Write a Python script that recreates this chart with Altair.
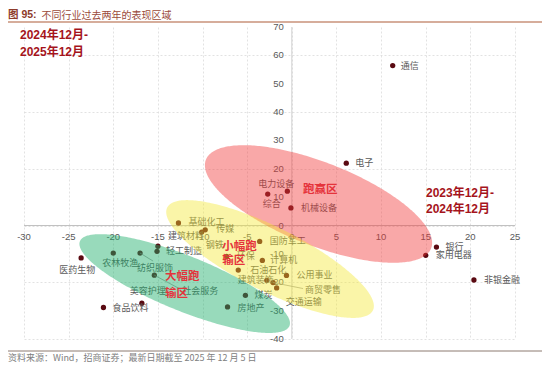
import numpy as np
import pandas as pd
import altair as alt

# ---------------- data ----------------
INDUSTRIES = ["通信", "电子", "电力设备", "综合", "机械设备", "银行", "家用电器", "非银金融",
              "基础化工", "传媒", "钢铁", "建筑材料", "轻工制造", "国防军工", "环保", "计算机",
              "石油石化", "公用事业", "建筑装饰", "商贸零售", "交通运输", "煤炭", "房地产",
              "社会服务", "美容护理", "食品饮料", "医药生物", "农林牧渔", "纺织服饰"]
# x: 2023年12月-2024年12月 , y: 2024年12月-2025年12月
RET_2024 = [11.3, 6.1, -0.5, -2.7, -0.1, 16.2, 15.0, 20.4,
            -12.7, -9.7, -10.1, -15.0, -15.1, -3.6, -7.3, -3.3,
            -6.0, -0.6, -2.8, -2.1, -1.7, -5.2, -7.2,
            -15.4, -16.8, -21.1, -23.6, -20.0, -17.0]
RET_2025 = [56.4, 22.0, 12.1, 11.1, 6.2, -7.6, -10.5, -19.2,
            0.9, -1.5, -2.3, -7.3, -9.1, -5.6, -10.9, -12.3,
            -15.7, -17.6, -19.3, -20.1, -22.0, -24.6, -28.7,
            -17.5, -27.4, -28.9, -11.4, -9.7, -9.7]

X_TICKS = list(range(-30, 26, 5))
Y_TICKS = list(range(-40, 71, 10))

REGION_LABELS = ["跑赢区", "小幅跑", "输区", "大幅跑", "输区"]
REGION_X = [1.25, -7.8, -7.8, -14.2, -14.2]
REGION_Y = [12.5, -7.5, -12.6, -18.1, -24.0]

PERIOD_LABELS = ["2024年12月-", "2025年12月", "2023年12月-", "2024年12月"]
PERIOD_X = [-30.45, -30.45, 15.03, 15.03]
PERIOD_Y = [67.2, 61.3, 11.6, 5.7]

TITLE_BOLD = "图 95:"
TITLE_TEXT = "不同行业过去两年的表现区域"
SOURCE_TEXT = "资料来源：Wind，招商证券；最新日期截至 2025 年 12 月 5 日"

# ---------------- layout / style ----------------
PLOT_W, PLOT_H = 491, 312
X_DOM = [-30, 25]
Y_DOM = [-40, 70]
SX = PLOT_W / (X_DOM[1] - X_DOM[0])
SY = PLOT_H / (Y_DOM[1] - Y_DOM[0])

# label placement (pixels from the point to label's left edge / middle)
LABEL_OFFSETS = {
    "通信": (8, 0), "电子": (9, 0), "电力设备": (-29, -7), "综合": (-5, 10),
    "机械设备": (10, 0), "银行": (9, 0), "家用电器": (10, 0), "非银金融": (10, 0),
    "基础化工": (10, -1), "传媒": (11, -1), "钢铁": (4, 13), "建筑材料": (10, -10),
    "轻工制造": (9, 0), "国防军工": (10, 0), "环保": (10, 0), "计算机": (8, 0),
    "石油石化": (12, 0), "公用事业": (10, 0), "建筑装饰": (-29, 0), "商贸零售": (32, 7),
    "交通运输": (9, 14), "煤炭": (9, 0), "房地产": (10, 1), "社会服务": (28, 16),
    "美容护理": (-12, -12), "食品饮料": (9, 0), "医药生物": (-22, 12),
    "农林牧渔": (-11, 10), "纺织服饰": (-3, 15),
}
LEADERS = {"纺织服饰": (13, 8), "社会服务": (26, 14), "商贸零售": (30, 6)}

# ellipses: centre (data units), semi-axes (px), tilt (deg, clockwise)
ELLIPSES = [
    dict(cx=2.99, cy=7.6, a=121, b=41.5, th=21.5, color="#F23A3A", op=0.44),
    dict(cx=-2.44, cy=-11.8, a=115, b=32, th=26.6, color="#F2E830", op=0.42),
    dict(cx=-12.0, cy=-20.45, a=113, b=27.5, th=22.0, color="#1FAE6A", op=0.46),
]

pts = pd.DataFrame({"name": INDUSTRIES, "x": RET_2024, "y": RET_2025})
pts["lx"] = [x + LABEL_OFFSETS[n][0] / SX for n, x in zip(pts.name, pts.x)]
pts["ly"] = [y - LABEL_OFFSETS[n][1] / SY for n, y in zip(pts.name, pts.y)]

lead = pts[pts.name.isin(LEADERS.keys())].copy()
lead["x2"] = [x + LEADERS[n][0] / SX for n, x in zip(lead.name, lead.x)]
lead["y2"] = [y - LEADERS[n][1] / SY for n, y in zip(lead.name, lead.y)]

xs = alt.Scale(domain=X_DOM, nice=False, zero=False)
ys = alt.Scale(domain=Y_DOM, nice=False, zero=False)
XAX = alt.Axis(values=X_TICKS, title=None)
YAX = alt.Axis(values=Y_TICKS, title=None)


def X(f):
    return alt.X(f, type="quantitative", scale=xs, axis=XAX, title=None)


def Y(f):
    return alt.Y(f, type="quantitative", scale=ys, axis=YAX, title=None)


CJK = "Noto Sans CJK SC"
LAT = "Liberation Sans, Noto Sans CJK SC"
one = pd.DataFrame({"k": [0]})

# axis lines through the origin
x_line = alt.Chart(one).mark_rule(color="#BFBFBF", strokeWidth=1).encode(y=alt.datum(0, scale=ys))
y_line = alt.Chart(one).mark_rule(color="#D0D0D0", strokeWidth=1).encode(x=alt.datum(0, scale=xs))

xt = pd.DataFrame({"v": X_TICKS, "t": [str(v) for v in X_TICKS]})
yt = pd.DataFrame({"v": Y_TICKS, "t": [str(v) for v in Y_TICKS]})
x_lab = alt.Chart(xt).mark_text(dy=11, fontSize=9.5, font=LAT, color="#595959").encode(
    x=X("v"), y=alt.datum(0), text="t:N")
y_lab = alt.Chart(yt).mark_text(align="right", baseline="middle", dx=-8, fontSize=9.5, font=LAT,
                                color="#595959").encode(y=Y("v"), x=alt.datum(0), text="t:N")

points = alt.Chart(pts).mark_circle(size=28, color="#5A0A12", opacity=1).encode(x=X("x"), y=Y("y"))
labels = alt.Chart(pts).mark_text(align="left", baseline="middle", font=CJK, fontSize=9,
                                  color="#595959").encode(x=X("lx"), y=Y("ly"), text="name:N")
leaders = alt.Chart(lead).mark_rule(color="#8C8C8C", strokeWidth=0.7).encode(
    x=X("x"), y=Y("y"), x2="x2:Q", y2="y2:Q")


def ellipse_frame(e, n=160):
    th = np.radians(e["th"])
    s, c = np.sin(th), np.cos(th)
    a, b = e["a"], e["b"]
    W = np.sqrt(a * a * c * c + b * b * s * s)
    u = -W * np.cos(np.linspace(0, np.pi, n))
    A = s * s / a ** 2 + c * c / b ** 2
    B = 2 * u * s * c * (1 / a ** 2 - 1 / b ** 2)
    C = u * u * (c * c / a ** 2 + s * s / b ** 2) - 1
    d = np.sqrt(np.clip(B * B - 4 * A * C, 0, None))
    v1 = (-B - d) / (2 * A)
    v2 = (-B + d) / (2 * A)
    return pd.DataFrame({"x": e["cx"] + u / SX,
                         "y": e["cy"] - v1 / SY,
                         "y2": e["cy"] - v2 / SY})


ell_layers = []
for e in ELLIPSES:
    ell_layers.append(
        alt.Chart(ellipse_frame(e)).mark_area(color=e["color"], opacity=e["op"], orient="vertical")
        .encode(x=X("x"), y=alt.Y("y:Q", scale=ys, axis=YAX, title=None, stack=None), y2="y2:Q"))

reg = pd.DataFrame({"t": REGION_LABELS, "x": REGION_X, "y": REGION_Y})
region = alt.Chart(reg).mark_text(align="left", baseline="middle", font=CJK, fontSize=11.5,
                                  fontWeight="bold", color="#E5333B").encode(x=X("x"), y=Y("y"), text="t:N")

per = pd.DataFrame({"t": PERIOD_LABELS, "x": PERIOD_X, "y": PERIOD_Y})
period = alt.Chart(per).mark_text(align="left", baseline="middle", font=LAT, fontSize=12,
                                  fontWeight="bold", color="#A5141C").encode(x=X("x"), y=Y("y"), text="t:N")

title1 = alt.Chart(one).mark_text(align="left", baseline="middle", font=LAT, fontSize=10.5,
                                  fontWeight="bold", color="#8E3B2B").encode(
    x=alt.value(-16), y=alt.value(-12), text=alt.value(TITLE_BOLD))
title2 = alt.Chart(one).mark_text(align="left", baseline="middle", font=CJK, fontSize=10,
                                  color="#9B4A3A").encode(
    x=alt.value(17.5), y=alt.value(-11.5), text=alt.value(TITLE_TEXT))
head_line = alt.Chart(one).mark_rule(color="#C8927A", strokeWidth=1.5).encode(
    x=alt.value(-16), x2=alt.value(519), y=alt.value(-5))
foot_line = alt.Chart(one).mark_rule(color="#8C7B70", strokeWidth=1).encode(
    x=alt.value(-16), x2=alt.value(519), y=alt.value(324))
foot = alt.Chart(one).mark_text(align="left", baseline="middle", font=CJK, fontSize=9,
                                color="#808080").encode(
    x=alt.value(-16), y=alt.value(331), text=alt.value(SOURCE_TEXT))

chart = alt.layer(
    x_line, y_line, x_lab, y_lab, points, labels, leaders, *ell_layers, region, period,
    title1, title2, head_line, foot_line, foot
).properties(
    width=PLOT_W, height=PLOT_H,
    autosize=alt.AutoSizeParams(type="none"),
    padding={"left": 16, "top": 19, "right": 27, "bottom": 24},
    background="white",
).configure_view(stroke=None).configure_axis(
    grid=True, gridColor="#DADADA", gridDash=[2, 2], gridWidth=0.8,
    labels=False, ticks=False, domain=False,
)

chart.save("out.html", embed_options={"renderer": "svg", "actions": False})
